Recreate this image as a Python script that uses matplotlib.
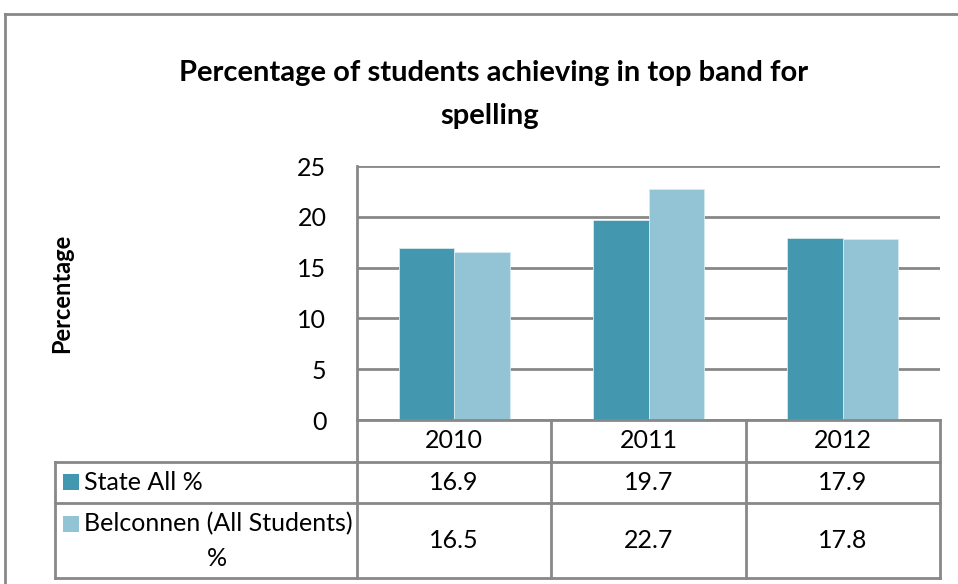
import numpy as np
import matplotlib.pyplot as plt
from matplotlib.lines import Line2D
from matplotlib.patches import Rectangle

years = ["2010", "2011", "2012"]
state_all = [16.9, 19.7, 17.9]
belconnen = [16.5, 22.7, 17.8]
series_names = ["State All %", "Belconnen (All Students)\n%"]
colors = ["#4398B0", "#93C4D6"]
yticks = [0, 5, 10, 15, 20, 25]

plt.rcParams["font.family"] = ["Lato", "DejaVu Sans"]

W, H = 958, 584
fig = plt.figure(figsize=(W / 100, H / 100), dpi=100)
grid_col = "#888888"
fs = 18


def fx(px):
    return px / W


def fy(py):
    return 1 - py / H


# outer chart frame (top and left edges visible)
fig.add_artist(Line2D([fx(5), fx(958)], [fy(14), fy(14)], color=grid_col, lw=2))
fig.add_artist(Line2D([fx(5), fx(5)], [fy(14), fy(584)], color=grid_col, lw=2))

# plot area
left, right, top, bottom = 357, 940, 166, 420
ax = fig.add_axes([fx(left), fy(bottom), fx(right - left), fy(top) - fy(bottom)])
x = np.arange(len(years))
bw = 0.285
ax.bar(x - bw / 2, state_all, bw, color=colors[0], edgecolor="#d6eaf0", lw=0.6, zorder=3)
ax.bar(x + bw / 2, belconnen, bw, color=colors[1], edgecolor="#d6eaf0", lw=0.6, zorder=3)
ax.set_xlim(-0.5, len(years) - 0.5)
ax.set_ylim(0, 25)
ax.set_yticks(yticks)
ax.set_yticklabels([str(t) for t in yticks], fontsize=fs)
ax.tick_params(axis="y", length=0, pad=22)
ax.set_xticks([])
ax.yaxis.grid(True, color=grid_col, lw=2, zorder=0)
for s in ["top", "right", "bottom"]:
    ax.spines[s].set_visible(False)
ax.spines["left"].set_color(grid_col)
ax.spines["left"].set_linewidth(2)

# title and y label
fig.text(fx(494), fy(73), "Percentage of students achieving in top band for",
         ha="center", va="center", fontsize=21, fontweight="bold")
fig.text(fx(490), fy(116), "spelling", ha="center", va="center",
         fontsize=21, fontweight="bold")
fig.text(fx(62), fy(293), "Percentage", rotation=90, ha="center", va="center",
         fontsize=17, fontweight="bold")

# data table
col_edges = [left + (right - left) * i / len(years) for i in range(len(years) + 1)]
row_edges = [420, 462, 503, 578]
tleft = 55


def hline(y, x0, x1):
    fig.add_artist(Line2D([fx(x0), fx(x1)], [fy(y), fy(y)], color=grid_col, lw=2))


def vline(xp, y0, y1):
    fig.add_artist(Line2D([fx(xp), fx(xp)], [fy(y0), fy(y1)], color=grid_col, lw=2))


hline(row_edges[0], left, right)
for r in row_edges[1:]:
    hline(r, tleft, right)
for c in col_edges:
    vline(c, row_edges[0], row_edges[-1])
vline(tleft, row_edges[1], row_edges[-1])

for i, yr in enumerate(years):
    cx = (col_edges[i] + col_edges[i + 1]) / 2
    fig.text(fx(cx), fy((row_edges[0] + row_edges[1]) / 2), yr,
             ha="center", va="center", fontsize=fs)

for r, (vals, name, col) in enumerate(zip([state_all, belconnen], series_names, colors)):
    ytop, ybot = row_edges[r + 1], row_edges[r + 2]
    cy = (ytop + ybot) / 2
    for i, v in enumerate(vals):
        cx = (col_edges[i] + col_edges[i + 1]) / 2
        fig.text(fx(cx), fy(cy), f"{v:.1f}", ha="center", va="center", fontsize=fs)
    # legend key
    ky = ytop + 20 if r == 0 else ytop + 21
    fig.add_artist(Rectangle((fx(63), fy(ky + 8)), fx(16), fy(ky - 8) - fy(ky + 8),
                             facecolor=col, edgecolor="none"))
    if r == 0:
        fig.text(fx(84), fy(ky), name, ha="left", va="center", fontsize=fs)
    else:
        fig.text(fx(84), fy(ky), name.split("\n")[0], ha="left", va="center", fontsize=fs)
        fig.text(fx(217), fy(ky + 34), name.split("\n")[1], ha="center", va="center", fontsize=fs)

fig.savefig("out.png", dpi=100)
